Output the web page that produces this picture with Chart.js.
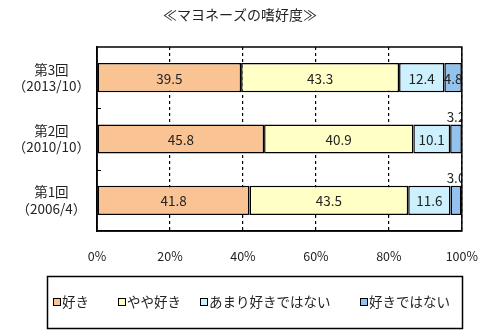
<!DOCTYPE html>
<html>
<head>
<meta charset="utf-8">
<script src="https://cdn.jsdelivr.net/npm/chart.js@4"></script>
<style>
  html, body { margin: 0; padding: 0; background: #fff; }
  #wrap { width: 481px; height: 335px; }
</style>
</head>
<body>
<div id="wrap"><canvas id="grafico"></canvas></div>
<script>
const TITULO = '≪マヨネーズの嗜好度≫';
const KAISU = [['第3回', '（2013/10）'], ['第2回', '（2010/10）'], ['第1回', '（2006/4）']];
const SERIES = ['好き', 'やや好き', 'あまり好きではない', '好きではない'];
const SUKI = [39.5, 45.8, 41.8];
const YAYA = [43.3, 40.9, 43.5];
const AMARI = [12.4, 10.1, 11.6];
const KIRAI = [4.8, 3.2, 3.0];
const COLORES = ['#fac393', '#ffffc6', '#cdf0ff', '#93c2ee'];
const X_TICKS = [0, 20, 40, 60, 80, 100];

const FUENTE = '"Noto Sans CJK JP", "Liberation Sans", sans-serif';

// title, value labels, small axis ticks and the boxed legend
const extras = {
  id: 'extras',
  afterDatasetsDraw(chart) {
    const ctx = chart.ctx;
    const area = chart.chartArea;
    ctx.save();
    ctx.beginPath();
    ctx.rect(area.left, 0, area.right - area.left, chart.height);
    ctx.clip();
    ctx.font = '13.5px ' + FUENTE;
    ctx.fillStyle = '#222';
    ctx.textAlign = 'center';
    ctx.textBaseline = 'middle';
    chart.data.datasets.forEach((ds, i) => {
      chart.getDatasetMeta(i).data.forEach((bar, j) => {
        const v = ds.data[j];
        const x = (bar.x + bar.base) / 2;
        const y = v < 4 ? bar.y - bar.height / 2 - 8 : bar.y + 1;
        ctx.fillText(v.toFixed(1), x, y);
      });
    });
    ctx.restore();
  },
  afterDraw(chart) {
    const ctx = chart.ctx;
    const area = chart.chartArea;
    const yScale = chart.scales.y;
    ctx.save();

    // plot box
    ctx.strokeStyle = '#000';
    ctx.lineWidth = 1.5;
    ctx.strokeRect(area.left, area.top, area.right - area.left, area.bottom - area.top);

    // title
    ctx.font = '14px ' + FUENTE;
    ctx.fillStyle = '#222';
    ctx.textAlign = 'center';
    ctx.textBaseline = 'middle';
    ctx.fillText(TITULO, 240, 15);

    // small marks between categories
    ctx.lineWidth = 1;
    for (let i = 0; i < KAISU.length - 1; i++) {
      const y = Math.round((yScale.getPixelForTick(i) + yScale.getPixelForTick(i + 1)) / 2) + 0.5;
      ctx.beginPath();
      ctx.moveTo(area.left, y);
      ctx.lineTo(area.left + 4, y);
      ctx.stroke();
    }

    // legend box
    ctx.lineWidth = 1.5;
    ctx.strokeRect(47.5, 276.5, 415, 52);
    const posX = [53, 118, 200, 360];
    ctx.font = '13.5px ' + FUENTE;
    ctx.textAlign = 'left';
    SERIES.forEach((nombre, i) => {
      ctx.fillStyle = COLORES[i];
      ctx.fillRect(posX[i] + 0.5, 298.5, 7, 7);
      ctx.lineWidth = 1;
      ctx.strokeStyle = '#000';
      ctx.strokeRect(posX[i] + 0.5, 298.5, 7, 7);
      ctx.fillStyle = '#222';
      ctx.fillText(nombre, posX[i] + 9, 302);
    });
    ctx.restore();
  }
};

const conjunto = [SUKI, YAYA, AMARI, KIRAI].map((datos, i) => ({
  label: SERIES[i],
  data: datos,
  backgroundColor: COLORES[i],
  borderColor: '#000',
  borderWidth: 1.5,
  borderSkipped: false,
  categoryPercentage: 1,
  barPercentage: 0.475
}));

new Chart(document.getElementById('grafico'), {
  type: 'bar',
  data: { labels: KAISU, datasets: conjunto },
  options: {
    indexAxis: 'y',
    responsive: true,
    maintainAspectRatio: false,
    animation: false,
    layout: { padding: { top: 47, right: 4, left: 0, bottom: 0 } },
    plugins: {
      legend: { display: false },
      title: { display: false },
      tooltip: { enabled: false }
    },
    scales: {
      x: {
        stacked: true,
        min: 0,
        max: 100,
        afterFit: (s) => { s.height = 104; },
        afterBuildTicks: (s) => { s.ticks = X_TICKS.map(v => ({ value: v })); },
        grid: { color: '#000', lineWidth: 1.2, drawTicks: true, tickLength: 15, tickColor: 'rgba(0,0,0,0)' },
        border: { dash: [3, 3], color: '#000', width: 1.5 },
        ticks: {
          padding: 3,
          color: '#222',
          font: { size: 12.5, family: FUENTE },
          callback: (v) => v + '%'
        }
      },
      y: {
        stacked: true,
        afterFit: (s) => { s.width = 97; },
        grid: { display: false, drawTicks: false },
        border: { color: '#000', width: 1.5 },
        ticks: {
          padding: 7,
          crossAlign: 'center',
          color: '#222',
          font: { size: 13.5, family: FUENTE },
          lineHeight: 1.3
        }
      }
    }
  },
  plugins: [extras]
});
</script>
</body>
</html>
